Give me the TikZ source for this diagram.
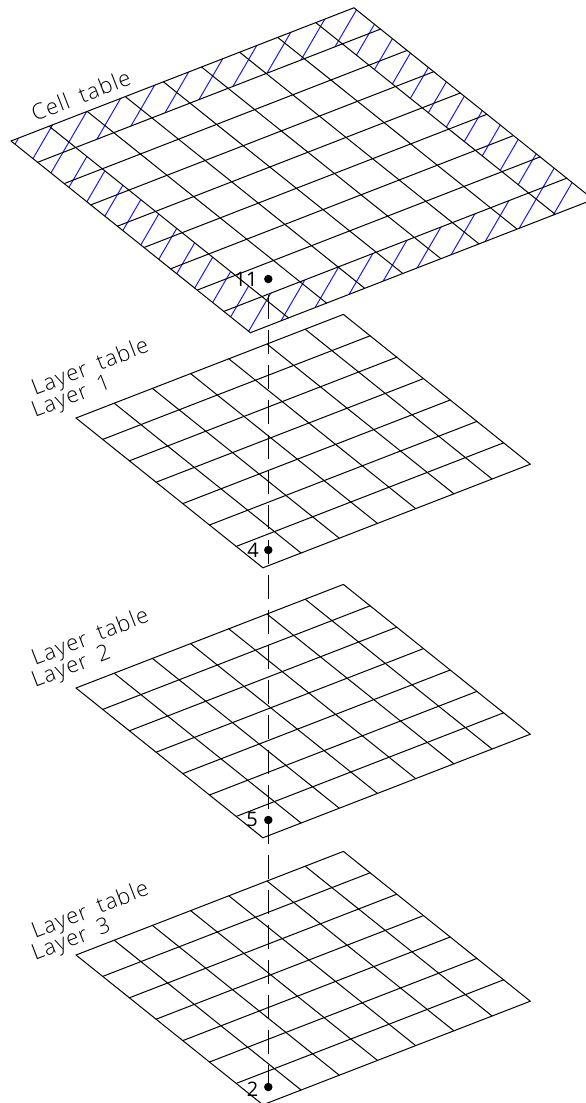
\documentclass[tikz,border=0pt]{standalone}
\usepackage{fontspec}
\setmainfont{Open Sans Light}[LetterSpace=5,WordSpace=1.7]
\newfontfamily\numfont{Open Sans}
\tikzset{
  gridline/.style={black,line width=1pt,line cap=round},
  hatchline/.style={draw={rgb,255:red,25;green,25;blue,235},line width=1pt},
  axisline/.style={black,line width=1pt,dash pattern=on 24.5pt off 10.5pt},
  dotmark/.style={circle,fill=black,inner sep=0pt,minimum size=8.5pt},
  numlabel/.style={inner sep=0pt,font=\numfont\fontsize{20}{20}\selectfont},
  tablabel/.style={inner sep=0pt,anchor=base west,rotate=21.2,font=\fontsize{22}{22}\selectfont}
}
\newcommand{\plate}[7]{%
  % #1,#2 left corner; #3,#4 step u; #5,#6 step v; #7 cells
  \foreach \i in {0,...,#7}{
    \draw[gridline] ({#1+\i*(#3)},{#2+\i*(#4)}) -- ({#1+\i*(#3)+#7*(#5)},{#2+\i*(#4)+#7*(#6)});
    \draw[gridline] ({#1+\i*(#5)},{#2+\i*(#6)}) -- ({#1+\i*(#5)+#7*(#3)},{#2+\i*(#6)+#7*(#4)});
  }%
}
\begin{document}
\begin{tikzpicture}[x=1pt,y=-1pt]
\useasboundingbox (0,0) rectangle (586,1103);
\clip (0,0) rectangle (586,1103);
% hatching of the border ring
\begin{scope}[even odd rule]
  \clip
    (11,141) -- (353.9,7.8) -- (593.3,199.5) -- (250.4,332.7) -- cycle
    ({11+38.1+26.6},{141-14.8+21.3}) -- ({11+8*38.1+26.6},{141-8*14.8+21.3})
    -- ({11+8*38.1+8*26.6},{141-8*14.8+8*21.3}) -- ({11+38.1+8*26.6},{141-14.8+8*21.3}) -- cycle;
  \foreach \k in {0,...,24}{
    \draw[hatchline] (0,{170+45.3*\k}) -- (600,{170+45.3*\k-1.72*600});
  }
\end{scope}
\plate{11}{141}{38.1}{-14.8}{26.6}{21.3}{9}
\plate{76}{418}{38.2}{-14.8}{26.7}{21.4}{7}
\plate{76}{688}{38.2}{-14.8}{26.7}{21.4}{7}
\plate{76}{955}{38.2}{-14.8}{26.7}{21.4}{7}
% points and axis
\node[dotmark] (p1) at (268.3,279) {};
\node[dotmark] (p2) at (268.3,550) {};
\node[dotmark] (p3) at (268.3,820) {};
\node[dotmark] (p4) at (268.3,1087) {};
\coordinate (axistop) at (268.3,294.5);
\draw[axisline] (axistop) -- (p4.center);
\node[numlabel] (n1) at (246,279) {11};
\node[numlabel] (n2) at (253,550) {4};
\node[numlabel] (n3) at (252,819) {5};
\node[numlabel] (n4) at (252.5,1089) {2};
% labels
\node[tablabel] (t0) at (35,122) {Cell table};
\node[tablabel] (t1a) at (35,396) {Layer table};
\node[tablabel] (t1b) at (35,418) {Layer 1};
\node[tablabel] (t2a) at (35,666) {Layer table};
\node[tablabel] (t2b) at (35,688) {Layer 2};
\node[tablabel] (t3a) at (35,939) {Layer table};
\node[tablabel] (t3b) at (35,961) {Layer 3};
\end{tikzpicture}
\end{document}
